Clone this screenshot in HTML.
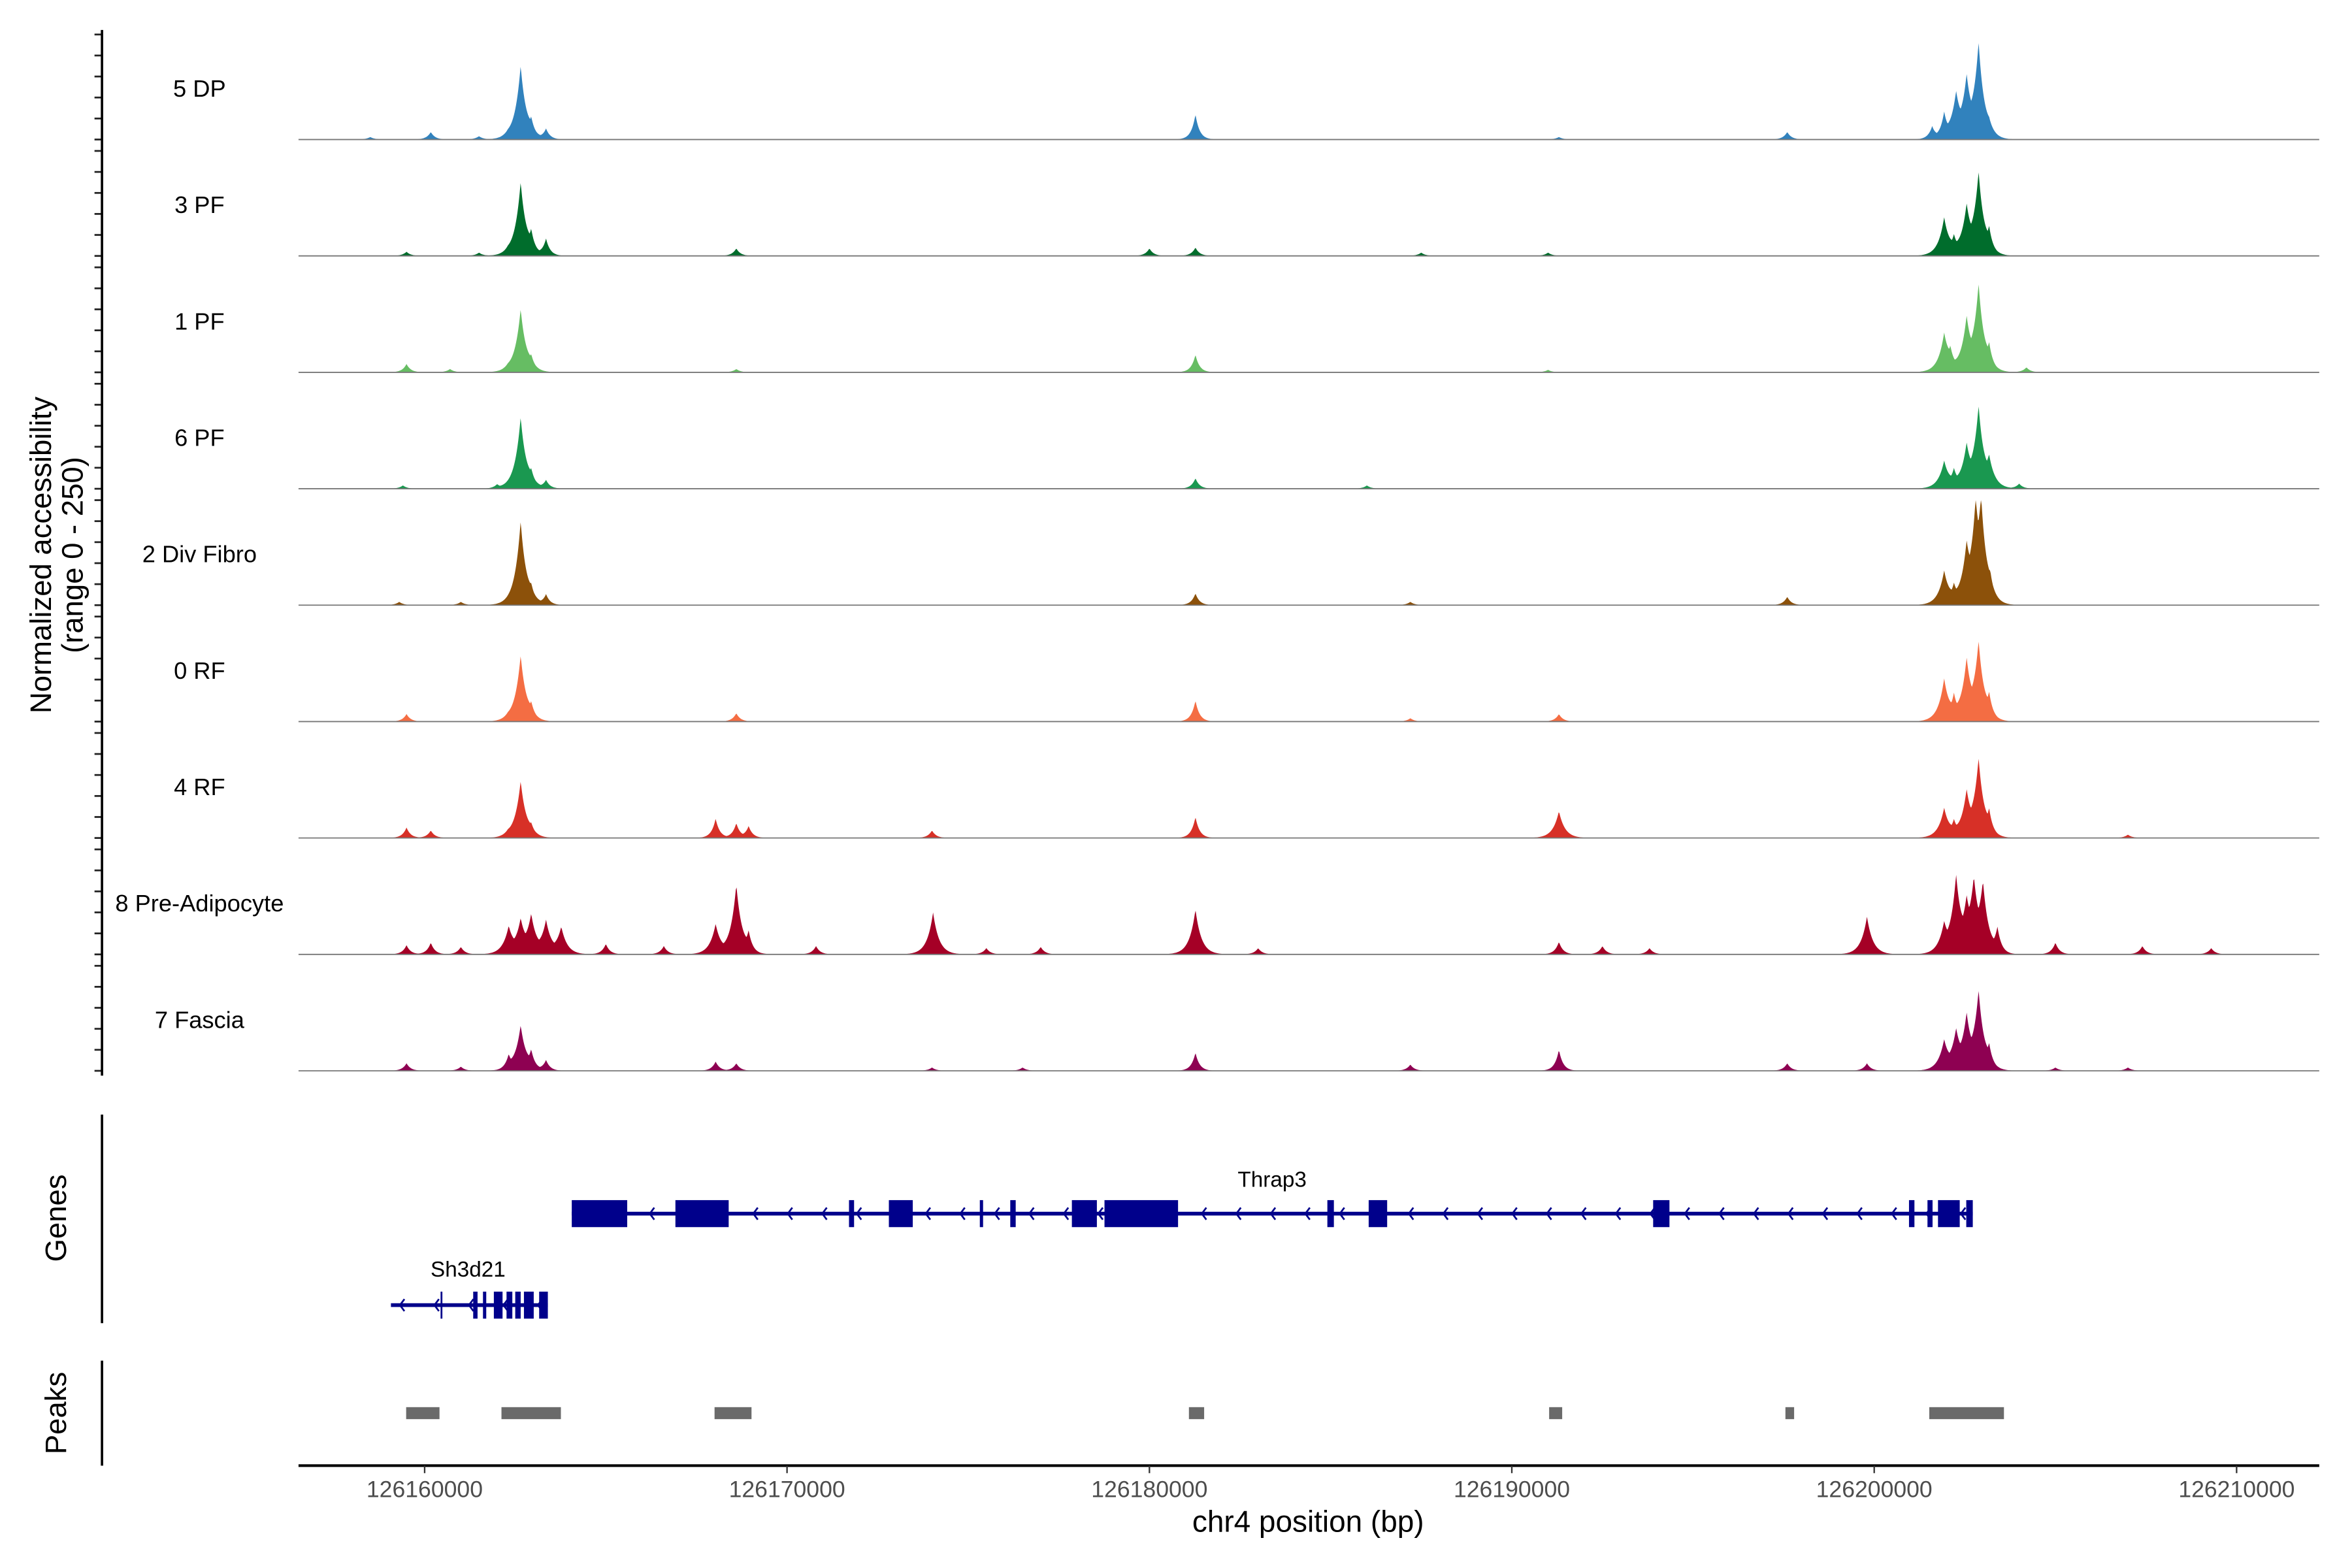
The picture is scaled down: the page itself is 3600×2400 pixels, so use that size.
<!DOCTYPE html>
<html><head><meta charset="utf-8"><style>
html,body{margin:0;padding:0;background:#fff}
svg{display:block}
text{font-family:"Liberation Sans",Arial,sans-serif}
</style></head><body>
<svg id="chart" xmlns="http://www.w3.org/2000/svg" width="3600" height="2400" viewBox="0 0 1560 1040">
<rect width="1560" height="1040" fill="#fff"/>
<g transform="translate(-1,0) scale(0.995)">
<g id="tracks"></g>
<g id="genes"></g>
<g id="peaks"></g>
<g id="axes"></g>
</g>
</svg>
<script>
// ---------- data ----------
const xDomainStart = 126156520;
const xDomainEnd = 126212280;
const xTickValues = [126160000,126170000,126180000,126190000,126200000,126210000];
const xTickLabels = ["126160000","126170000","126180000","126190000","126200000","126210000"];
const yTickValues = [0,50,100,150,200,250];
const trackNames = ["5 DP","3 PF","1 PF","6 PF","2 Div Fibro","0 RF","4 RF","8 Pre-Adipocyte","7 Fascia"];
const trackColors = ["#3182bd","#006d2c","#66bd63","#1a9850","#8c510a","#f46d43","#d73027","#a50026","#8e0152"];
// peak positions (kb offset from 126160000) and heights (0-250) per track
const pos5DP = [-1.5,0.17,1.5,2.3,2.65,2.94,3.35,21.27,31.3,37.6,41.6,41.93,42.26,42.55,42.88,43.17];
const ht5DP  = [6,18,8,12,175,45,25,60,6,18,30,60,105,140,225,40];
const pos3PF = [-0.5,1.5,2.3,2.65,2.94,3.35,8.6,20.0,21.27,27.5,31.0,41.93,42.2,42.55,42.88,43.17];
const ht3PF  = [10,8,12,175,55,40,18,18,20,8,8,90,40,115,195,60];
const pos1PF = [-0.5,0.7,2.3,2.65,2.94,8.6,21.27,31.0,41.93,42.1,42.55,42.88,43.17,44.2];
const ht1PF  = [20,8,12,150,35,8,42,6,90,50,125,205,60,12];
const pos6PF = [-0.6,2.0,2.65,2.94,3.35,21.27,26.0,41.93,42.2,42.55,42.88,43.17,44.0];
const ht6PF  = [8,10,170,40,20,25,8,65,40,100,190,70,12];
const posDiv = [-0.7,1.0,2.65,2.94,3.35,21.27,27.2,37.6,41.93,42.2,42.55,42.8,42.95,43.2];
const htDiv  = [8,8,200,42,25,28,8,20,80,40,130,215,225,60];
const pos0RF = [-0.5,2.3,2.65,2.94,8.6,21.27,27.2,31.3,41.93,42.2,42.55,42.88,43.17];
const ht0RF  = [18,12,157,40,20,50,8,18,100,55,143,185,60];
const pos4RF = [-0.5,0.17,2.3,2.65,2.94,8.03,8.6,8.94,14.0,21.27,31.3,41.93,42.2,42.55,42.88,43.17,47.0];
const ht4RF  = [25,18,15,135,30,46,35,28,18,50,64,70,35,107,185,60,8];
const posPre = [-0.5,0.17,1.0,2.32,2.65,2.94,3.35,3.77,5.0,6.6,8.03,8.6,8.94,10.8,14.03,15.5,17.0,21.27,23.0,31.3,32.5,33.8,39.8,41.93,42.26,42.55,42.75,43.0,43.4,45.0,47.4,49.3];
const htPre  = [22,28,18,64,78,90,78,64,25,20,71,165,50,20,100,15,18,107,15,30,20,15,90,70,178,110,160,160,60,28,20,15];
const posFas = [-0.5,1.0,2.32,2.65,2.94,3.35,8.03,8.6,14.0,16.5,21.27,27.2,31.3,37.6,39.8,41.93,42.26,42.55,42.88,43.17,45.0,47.0];
const htFas  = [18,10,35,107,45,25,22,18,8,8,43,15,50,18,18,70,90,125,185,55,8,8];
const trackPos = [pos5DP,pos3PF,pos1PF,pos6PF,posDiv,pos0RF,pos4RF,posPre,posFas];
const trackHt  = [ht5DP,ht3PF,ht1PF,ht6PF,htDiv,ht0RF,ht4RF,htPre,htFas];
// genes (kb offsets)
const thrap3Start = 4.06, thrap3End = 42.72;
const thrap3ExonStart = [4.06,6.92,11.71,12.81,15.32,16.16,17.86,18.76,24.91,26.05,33.90,40.96,41.47,41.76,42.54];
const thrap3ExonEnd   = [5.59,8.39,11.85,13.47,15.41,16.31,18.55,20.79,25.09,26.56,34.35,41.11,41.61,42.36,42.72];
const sh3Start = -0.93, sh3End = 3.40;
const sh3ExonStart = [0.44,1.34,1.61,1.91,2.26,2.50,2.74,3.16];
const sh3ExonEnd   = [0.48,1.46,1.70,2.15,2.42,2.65,3.01,3.40];
// peaks (kb offsets)
const peakStart = [-0.51,2.12,8.00,21.09,31.03,37.55,41.52];
const peakEnd   = [0.41,3.76,9.02,21.51,31.39,37.79,43.58];

// ---------- scales ----------
const NS='http://www.w3.org/2000/svg';
const X0=200, X1=1547;
function x(bp){return X0+(bp-xDomainStart)/(xDomainEnd-xDomainStart)*(X1-X0);}
function xk(kb){return x(126160000+kb*1000);}
const firstBase=93, trackStep=77.6, unitPx=0.28;
function mk(tag,attrs,parent){const e=document.createElementNS(NS,tag);for(const k in attrs)e.setAttribute(k,attrs[k]);parent.appendChild(e);return e;}

const tracksG=document.getElementById('tracks');
const axesG=document.getElementById('axes');
trackNames.forEach((name,i)=>{
  const base=firstBase+i*trackStep;
  const g=mk('g',{},tracksG);
  
  
  const P=trackPos[i], H=trackHt[i];
  let d='M'+X0+','+base;
  for(let px=X0;px<=X1;px+=0.5){
    let mx=0, sm=0;
    for(let j=0;j<P.length;j++){
      const dpx=Math.abs(px-xk(P[j]));
      const w=H[j]>60?4:2.8;
      const k=H[j]*Math.exp(-dpx/w);
      sm+=k; if(k>mx)mx=k;
    }
    let v=Math.min(mx+0.35*(sm-mx),250);
    d+=' L'+px.toFixed(1)+','+(base-v*unitPx).toFixed(2);
  }
  d+=' L'+X1+','+base+' Z';
  const area=mk('path',{d:d,fill:trackColors[i],stroke:'none'},g);
  
  
  const bl=mk('line',{x1:X0,x2:X1,y1:base,y2:base,stroke:'#777','stroke-width':0.8},g);
  
  
  const t=mk('text',{x:134,y:base-34,'text-anchor':'middle','dominant-baseline':'central','font-size':15.8,fill:'#000'},g);
  t.textContent=name;
  
  
  yTickValues.forEach(v=>{
    const yy=base-v*unitPx;
    const tk=mk('line',{x1:64,x2:69,y1:yy,y2:yy,stroke:'#222','stroke-width':1.2},axesG);
    
    
  });
});

// genes
const genesG=document.getElementById('genes');
function gene(name,s,e,es,ee,yc,labelY,labelX){
  const g=mk('g',{},genesG);
  
  
  mk('line',{x1:xk(s),x2:xk(e),y1:yc,y2:yc,stroke:'#00008b','stroke-width':2.5},g);
  for(let px=xk(s)+6;px<xk(e)-4;px+=23){
    mk('path',{d:'M'+(px+3)+','+(yc-4)+' L'+px+','+yc+' L'+(px+3)+','+(yc+4),fill:'none',stroke:'#00008b','stroke-width':1.2},g);
  }
  for(let j=0;j<es.length;j++){
    const r=mk('rect',{x:xk(es[j]),y:yc-9,width:Math.max(1.2,xk(ee[j])-xk(es[j])),height:18,fill:'#00008b'},g);
    
    
  }
  const t=mk('text',{x:labelX,y:labelY,'text-anchor':'middle','font-size':14.5,fill:'#000'},g);
  t.textContent=name;
  
  
}
gene('Thrap3',thrap3Start,thrap3End,thrap3ExonStart,thrap3ExonEnd,809,791,849);
gene('Sh3d21',sh3Start,sh3End,sh3ExonStart,sh3ExonEnd,870,851,313);

// peaks
const peaksG=document.getElementById('peaks');
for(let j=0;j<peakStart.length;j++){
  const r=mk('rect',{x:xk(peakStart[j]),y:938,width:xk(peakEnd[j])-xk(peakStart[j]),height:8,fill:'#6a6a6a'},peaksG);
  
  
}

// axes
function L(x1,y1,x2,y2,w,name){const l=mk('line',{x1,y1,x2,y2,stroke:'#000','stroke-width':w},axesG);}
L(69,20,69,717,1.6,'tracks-y-axis');
L(69,743,69,882,1.6,'genes-y-axis');
L(69,907,69,977,1.6,'peaks-y-axis');
L(200,977,1547,977,1.8,'x-axis-line');
xTickValues.forEach((v,i)=>{
  const tk=mk('line',{x1:x(v),x2:x(v),y1:977,y2:982,stroke:'#333','stroke-width':1},axesG);
  
  
  const t=mk('text',{x:x(v),y:998,'text-anchor':'middle','font-size':15.5,fill:'#4d4d4d'},axesG);
  t.textContent=xTickLabels[i];
  
  
});
function T(txt,xx,yy,size,rot,name){
  const t=mk('text',{x:xx,y:yy,'text-anchor':'middle','font-size':size,fill:'#000'},axesG);
  if(rot)t.setAttribute('transform','rotate(-90 '+xx+' '+yy+')');
  t.textContent=txt;
  
  
}
T('chr4 position (bp)',873,1021,20,false,'x-axis-title');
T('Normalized accessibility',35,370,19.8,true,'y-axis-title');
T('(range 0 - 250)',56,370,19.8,true,'y-axis-subtitle');
T('Genes',45,812,19.8,true,'genes-axis-title');
T('Peaks',45,942,19.8,true,'peaks-axis-title');
</script>
</body></html>
